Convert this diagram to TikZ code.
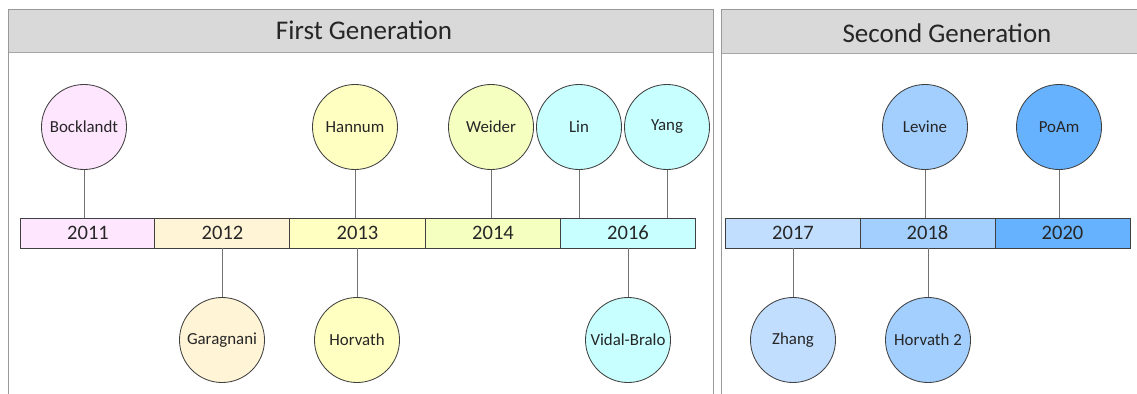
\documentclass[tikz,border=0pt]{standalone}
\usepackage{fontspec}
\setmainfont{Carlito}
\usetikzlibrary{positioning}
\definecolor{hdrgray}{HTML}{D9D9D9}
\definecolor{c2011}{HTML}{FFE6FF}
\definecolor{c2012}{HTML}{FFF4D6}
\definecolor{c2013}{HTML}{FFFFC2}
\definecolor{c2014}{HTML}{F4FFC0}
\definecolor{c2016}{HTML}{C8FFFF}
\definecolor{c2017}{HTML}{C2DEFF}
\definecolor{c2018}{HTML}{A3CFFF}
\definecolor{c2020}{HTML}{66B2FF}

\begin{document}
\begin{tikzpicture}[x=0.025cm,y=-0.025cm,
    panel/.style={draw=black!40,line width=0.7pt},
    header/.style={fill=hdrgray,draw=black!35,line width=0.5pt},
    yearbox/.style={draw=black!75,line width=0.7pt,minimum width=3.375cm,minimum height=0.75cm,
      inner sep=0pt,font=\fontsize{14.6}{16}\selectfont,text=black!85},
    author/.style={circle,draw=black!75,line width=0.6pt,minimum size=2.125cm,inner sep=0pt,
      font=\fontsize{12}{13}\selectfont,text=black!85},
    stem/.style={draw=black!55,line width=0.5pt}]
  \useasboundingbox (0,0) rectangle (1137,394);
  % panels
  \fill[header] (8,9) rectangle (713,52);
  \draw[panel] (8,394) -- (8,9) -- (713,9) -- (713,394);
  \fill[header] (721,9) rectangle (1140,53);
  \draw[panel] (721,394) -- (721,9) -- (1140,9);
  \node[font=\fontsize{19.2}{22}\selectfont,text=black!85] (gen1) at (364,30) {First Generation};
  \node[font=\fontsize{19.2}{22}\selectfont,text=black!85] (gen2) at (947,33) {Second Generation};
  % timeline
  \foreach \yr/\x in {2011/88,2012/222.5,2013/357.5,2014/493,2016/628,
                      2017/793,2018/927.5,2020/1062.5}
    \node[yearbox,fill=c\yr] (y\yr) at (\x,233) {\yr};
  % authors above the bar
  \foreach \nm/\lab/\x/\yr in {bock/Bocklandt/84/2011,hann/Hannum/355/2013,
                               weid/Weider/491/2014,lin/Lin/579/2016,yang/Yang/667/2016,
                               lev/Levine/925/2018,poam/PoAm/1059/2020}
  {
    \node[author,fill=c\yr] (\nm) at (\x,127) {\lab};
    \draw[stem] (\nm.south) -- (\nm.south |- y\yr.north);
  }
  % authors below the bar
  \foreach \nm/\lab/\x/\yr in {gara/Garagnani/222/2012,horv/Horvath/357/2013,
                               vida/Vidal-Bralo/628/2016,zhan/Zhang/793/2017,
                               horvb/Horvath 2/928/2018}
  {
    \node[author,fill=c\yr] (\nm) at (\x,340) {\lab};
    \draw[stem] (\nm.north) -- (\nm.north |- y\yr.south);
  }
\end{tikzpicture}
\end{document}
